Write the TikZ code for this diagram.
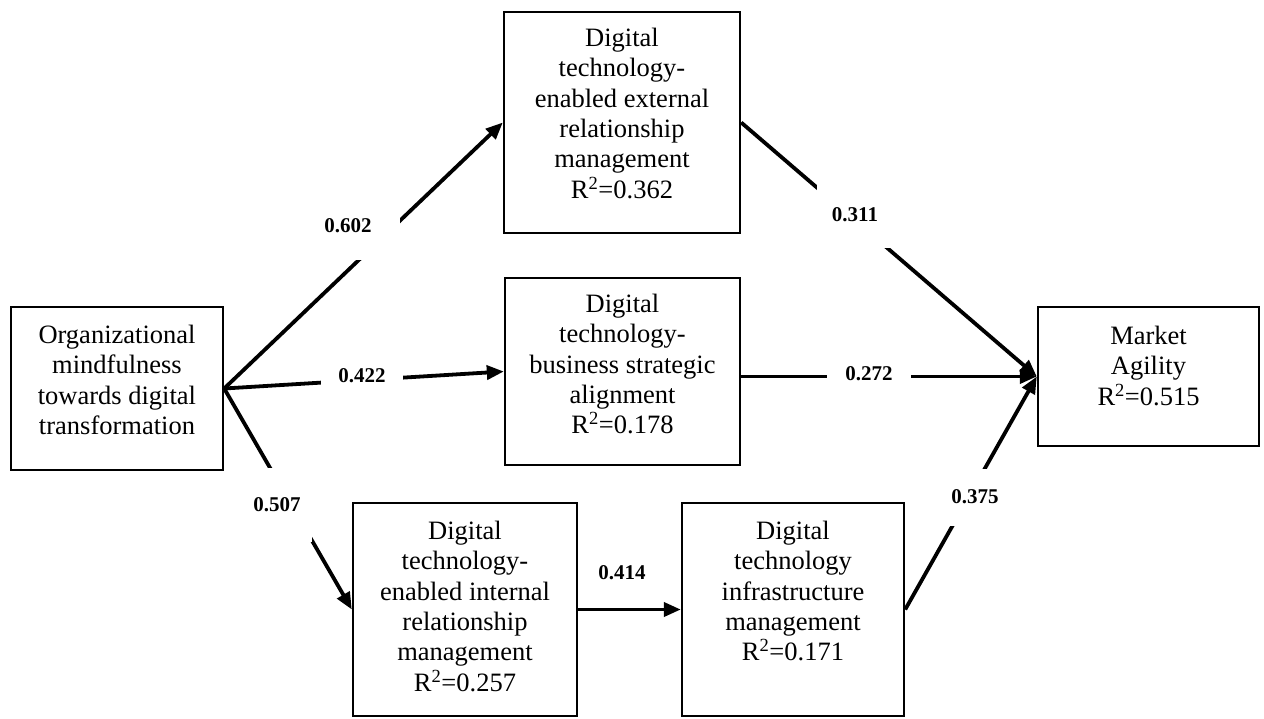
\documentclass[tikz,border=0pt]{standalone}
\usepackage{fontspec}
\setmainfont{Liberation Serif}
\usetikzlibrary{arrows.meta}
\begin{document}
\begin{tikzpicture}[x=1pt,y=-1pt,
  boxnode/.style={draw=black, line width=2.4pt, rectangle, inner sep=0pt},
  boxtext/.style={anchor=north, align=center, inner sep=0pt,
    font=\fontsize{26.5}{30.4}\selectfont},
  pathline/.style={line width=3.8pt, -{Triangle[length=17pt,width=14pt]}},
  coef/.style={fill=white, inner sep=0pt, font=\fontsize{21}{24}\selectfont\bfseries}]
\useasboundingbox (0,0) rectangle (1264,718);
% boxes
\node[boxnode, minimum width=212pt, minimum height=163pt] (lb) at (117,388.5) {};
\node[boxnode, minimum width=236pt, minimum height=221pt] (tb) at (622,122.5) {};
\node[boxnode, minimum width=235pt, minimum height=187pt] (mb) at (622.5,371.5) {};
\node[boxnode, minimum width=224pt, minimum height=213pt] (bl) at (465,609.5) {};
\node[boxnode, minimum width=222pt, minimum height=213pt] (br) at (793,609.5) {};
\node[boxnode, minimum width=221pt, minimum height=139pt] (ma) at (1148.5,376.5) {};
% box texts
\node[boxtext] (lbt) at ([yshift=-19pt]lb.north) {Organizational\\mindfulness\\towards digital\\transformation};
\node[boxtext] (tbt) at ([yshift=-17pt]tb.north) {Digital\\technology-\\enabled external\\relationship\\management\\R\textsuperscript{2}=0.362};
\node[boxtext] (mbt) at ([yshift=-17pt]mb.north) {Digital\\technology-\\business strategic\\alignment\\R\textsuperscript{2}=0.178};
\node[boxtext] (blt) at ([yshift=-19pt]bl.north) {Digital\\technology-\\enabled internal\\relationship\\management\\R\textsuperscript{2}=0.257};
\node[boxtext] (brt) at ([yshift=-19pt]br.north) {Digital\\technology\\infrastructure\\management\\R\textsuperscript{2}=0.171};
\node[boxtext] (mat) at ([yshift=-20pt]ma.north) {Market\\Agility\\R\textsuperscript{2}=0.515};
% paths
\draw[pathline] (lb.east) -- (tb.west);
\draw[pathline] (lb.east) -- (mb.west);
\draw[pathline] (lb.east) -- (bl.west);
\draw[pathline] (bl.east) -- (br.west);
\draw[pathline] (tb.east) -- (ma.west);
\draw[pathline] (mb.east |- ma.west) -- (ma.west);
\draw[pathline] (br.east) -- (ma.west);
% coefficients
\node[coef, minimum width=104pt, minimum height=68pt] (c602) at (348,226) {0.602};
\node[coef, minimum width=82pt, minimum height=40pt] (c422) at (362,376) {0.422};
\node[coef, minimum width=70pt, minimum height=74pt] (c507) at (277,505) {0.507};
\node[coef, fill=none] (c414) at (622,573) {0.414};
\node[coef, minimum width=76pt, minimum height=66pt] (c311) at (855,215) {0.311};
\node[coef, minimum width=84pt, minimum height=40pt] (c272) at (869,374) {0.272};
\node[coef, minimum width=50pt, minimum height=57pt] (c375) at (975,497) {0.375};
\end{tikzpicture}
\end{document}
